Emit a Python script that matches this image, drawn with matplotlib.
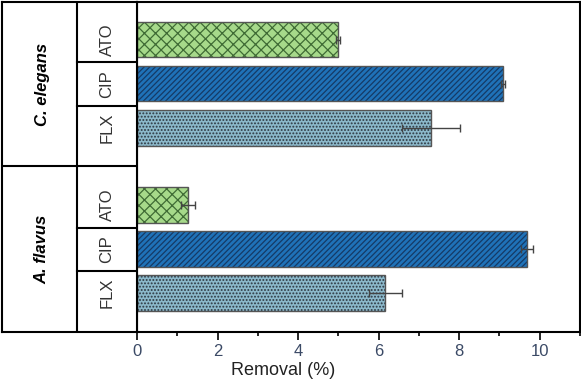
import matplotlib
matplotlib.use("Agg")
import matplotlib.pyplot as plt
from matplotlib.ticker import MultipleLocator

groups = ["C. elegans", "A. flavus"]
compounds = ["ATO", "CIP", "FLX"]
# values top to bottom: C. elegans ATO, CIP, FLX ; A. flavus ATO, CIP, FLX
values_elegans = [5.0, 9.08, 7.29]
errors_elegans = [0.05, 0.05, 0.72]
values_flavus = [1.27, 9.68, 6.17]
errors_flavus = [0.18, 0.15, 0.42]

fills = {"ATO": "#a6d98a", "CIP": "#1f72b8", "FLX": "#8bb8ca"}
hatchcols = {"ATO": "#3f6b35", "CIP": "#153a66", "FLX": "#2c3640"}
hatches = {"ATO": "xxx", "CIP": "//////", "FLX": "....."}

plt.rcParams['hatch.linewidth'] = 0.9
plt.rcParams['font.family'] = ['Liberation Sans', 'DejaVu Sans']
W, H = 581, 382
fig = plt.figure(figsize=(W/100, H/100), dpi=100)

def px(x0, y0, x1, y1):
    return [x0/W, 1 - y1/H, (x1-x0)/W, (y1-y0)/H]

ax = fig.add_axes(px(137, 2, 580, 332))
tax = fig.add_axes(px(2, 2, 137, 332))

ypos_el = [5.75, 4.75, 3.75]
ypos_fl = [2.0, 1.0, 0.0]
ylo, yhi = -0.886, 6.61

for ypos, vals, errs in [(ypos_el, values_elegans, errors_elegans), (ypos_fl, values_flavus, errors_flavus)]:
    for y, v, e, c in zip(ypos, vals, errs, compounds):
        ax.barh(y, v, height=0.8, color=fills[c], edgecolor=hatchcols[c], hatch=hatches[c], linewidth=0)
        ax.barh(y, v, height=0.8, color="none", edgecolor="#555555", linewidth=1.0)
        ax.errorbar(v, y, xerr=e, fmt="none", ecolor="#444444", elinewidth=1.0, capsize=3, capthick=1.0)

ax.set_xlim(0, 11)
ax.set_ylim(ylo, yhi)
ax.set_yticks([])
ax.xaxis.set_major_locator(MultipleLocator(2))
ax.xaxis.set_minor_locator(MultipleLocator(1))
ax.tick_params(axis="x", which="major", direction="out", length=6, width=1.2, labelsize=12, labelcolor="#3b4a66", pad=3)
ax.tick_params(axis="x", which="minor", direction="out", length=3, width=1.2)
for s in ax.spines.values():
    s.set_linewidth(1.5)
ax.set_xlabel("Removal (%)", fontsize=13, color="#222222", labelpad=-1)
ax.xaxis.set_label_coords((283 - 137) / (580 - 137), -0.092)

# table on the left
tax.set_xlim(0, 135)
tax.set_ylim(ylo, yhi)
tax.set_xticks([]); tax.set_yticks([])
for s in tax.spines.values():
    s.set_linewidth(1.5)
tax.axvline(75, color="black", lw=1.5)
tax.axhline(2.886, color="black", lw=1.5)
for b in [5.25, 4.25, 1.477, 0.5]:
    tax.plot([75, 135], [b, b], color="black", lw=1.5)
for y, c in zip(ypos_el + ypos_fl, compounds + compounds):
    tax.text(105, y, c, rotation=90, ha="center", va="center", fontsize=12, color="#333333")
tax.text(40, (yhi + 2.886)/2, groups[0], rotation=90, ha="center", va="center",
         fontsize=12, fontweight="bold", fontstyle="italic")
tax.text(40, (ylo + 2.886)/2, groups[1], rotation=90, ha="center", va="center",
         fontsize=12, fontweight="bold", fontstyle="italic")

fig.savefig("out.png", dpi=100)
